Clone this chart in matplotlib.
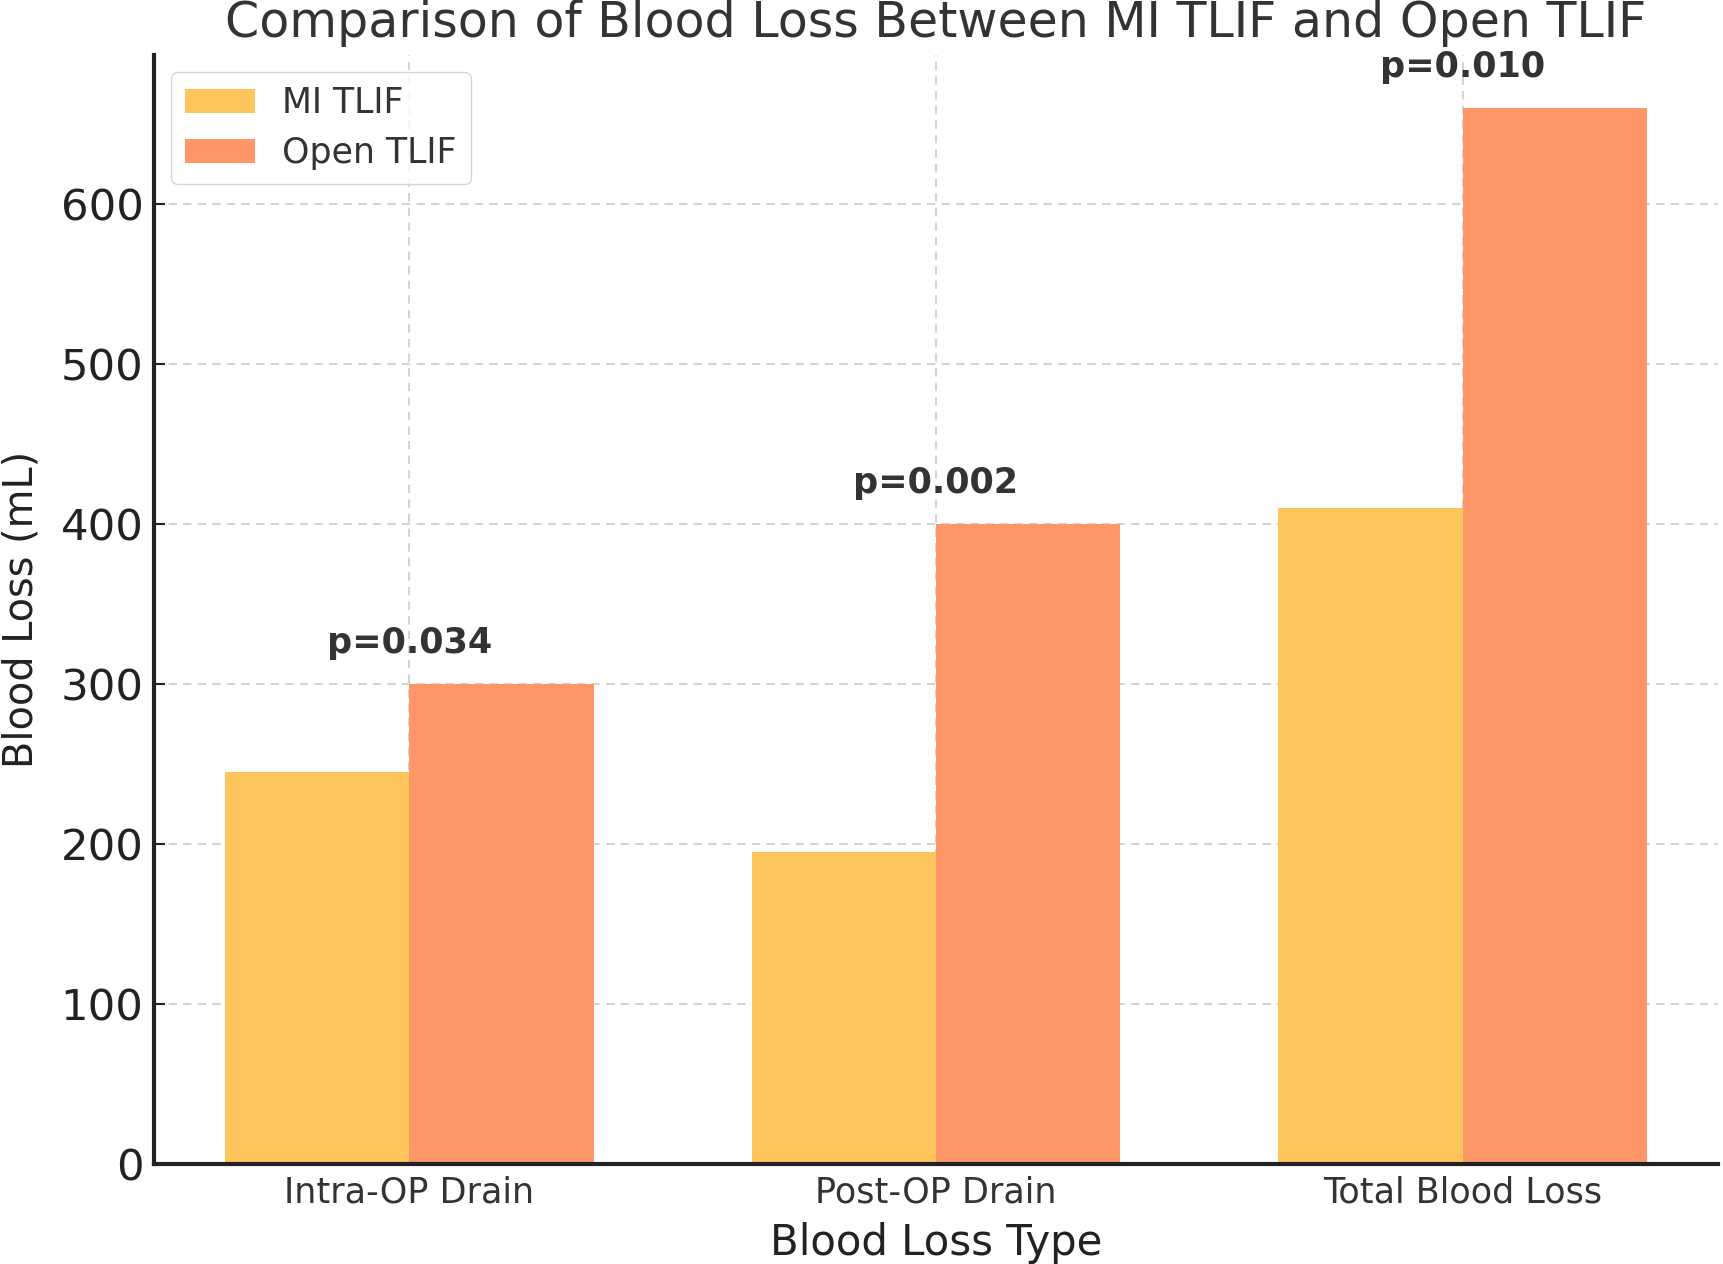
import matplotlib
matplotlib.use("Agg")
import matplotlib.pyplot as plt
import numpy as np

categories = ["Intra-OP Drain", "Post-OP Drain", "Total Blood Loss"]
mi_tlif = [245, 195, 410]
open_tlif = [300, 400, 660]
p_values = ["p=0.034", "p=0.002", "p=0.010"]

text_color = "#333333"

fig = plt.figure(figsize=(17.24, 12.64), dpi=100)
ax = fig.add_axes([0.0893, 0.0791, 0.9072, 0.8774])

x = np.arange(len(categories))
width = 0.35

ax.bar(x - width / 2, mi_tlif, width, label="MI TLIF", color="#FEC55C", zorder=2)
ax.bar(x + width / 2, open_tlif, width, label="Open TLIF", color="#FF9668", zorder=2)

for i, p in enumerate(p_values):
    top = max(mi_tlif[i], open_tlif[i])
    ax.text(x[i], top + 15, p, ha="center", va="bottom", fontsize=25.2,
            fontweight="bold", color=text_color)

ax.set_xticks(x)
ax.set_xticklabels(categories, fontsize=25.2, color=text_color)
ax.tick_params(axis="y", labelsize=31.3, labelcolor="#222222", pad=7.5)
ax.tick_params(axis="x", pad=8)
ax.tick_params(direction="in", length=8, width=1.5, color="#222222")

ax.set_title("Comparison of Blood Loss Between MI TLIF and Open TLIF",
             fontsize=35.3, color=text_color, pad=13)
ax.set_xlabel("Blood Loss Type", fontsize=30.2, color="#222222", labelpad=9)
ax.set_ylabel("Blood Loss (mL)", fontsize=28.7, color="#222222", labelpad=14)

ax.grid(True, linestyle=(0, (4, 3)), color="#d4d4d4", linewidth=1.5, zorder=0)
ax.set_axisbelow(True)

for side in ["top", "right"]:
    ax.spines[side].set_visible(False)
for side in ["left", "bottom"]:
    ax.spines[side].set_linewidth(3)
    ax.spines[side].set_color("#222222")

leg = ax.legend(loc="upper left", fontsize=25, frameon=True, fancybox=True,
                edgecolor="#cccccc", borderpad=0.4, labelspacing=0.45)
for t in leg.get_texts():
    t.set_color(text_color)

fig.savefig("out.png", dpi=100)
